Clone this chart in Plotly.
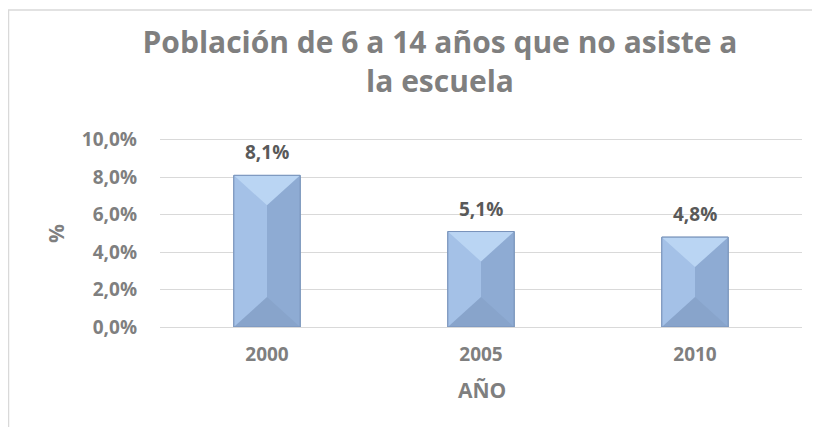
import plotly.graph_objects as go

# data
years = ["2000", "2005", "2010"]
pct_not_attending = [8.1, 5.1, 4.8]
y_ticks = [0, 2, 4, 6, 8, 10]
y_tick_labels = ["0,0%", "2,0%", "4,0%", "6,0%", "8,0%", "10,0%"]

chart_title = "Población de 6 a 14 años que no asiste a<br>la escuela"

# the page adds an 8px body margin, so the figure is shifted by that much;
# geometry below is written in screenshot pixels and converted
OFF = 8
W, H = 820 - OFF, 427 - OFF
L, R, T, B = 160, 802, 137, 327
Y_MAX = 10.15
GRAY = "#7f7f7f"
FONT = "Open Sans"


def px_x(x):
    return (x - L) / (R - L)


def px_y(y):
    return (B - y) / (B - T)


positions = list(range(len(years)))

fig = go.Figure()

fig.add_trace(go.Bar(
    x=positions,
    y=pct_not_attending,
    width=0.31,
    marker=dict(color="#9bb8de", line=dict(color="#7593bb", width=1)),
    hoverinfo="skip",
))

# bevel look of the Excel bars, built from the same values
bar_w = 0.31
depth = 1.6
shapes = []
for i, v in zip(positions, pct_not_attending):
    x0, x1, xm = i - bar_w / 2, i + bar_w / 2, i
    d = min(depth, v / 2)
    # left and right halves
    shapes.append(dict(type="rect", xref="x", yref="y", x0=x0, x1=xm, y0=0, y1=v,
                       fillcolor="#a4c1e7", line=dict(width=0), layer="above"))
    shapes.append(dict(type="rect", xref="x", yref="y", x0=xm, x1=x1, y0=0, y1=v,
                       fillcolor="#8eabd3", line=dict(width=0), layer="above"))
    # top bevel
    shapes.append(dict(type="path", xref="x", yref="y",
                       path=f"M {x0},{v} L {x1},{v} L {xm},{v - d} Z",
                       fillcolor="#bad5f3", line=dict(width=0), layer="above"))
    # bottom bevel
    shapes.append(dict(type="path", xref="x", yref="y",
                       path=f"M {x0},0 L {x1},0 L {xm},{d} Z",
                       fillcolor="#88a4cb", line=dict(width=0), layer="above"))
    # outline
    shapes.append(dict(type="rect", xref="x", yref="y", x0=x0, x1=x1, y0=0, y1=v,
                       fillcolor="rgba(0,0,0,0)", line=dict(color="#7893ba", width=1),
                       layer="above"))

# chart frame (cropped on the right and bottom in the reference)
shapes.append(dict(type="rect", xref="paper", yref="paper",
                   x0=px_x(OFF + 0.5), x1=px_x(W + 60), y0=px_y(H + 60), y1=px_y(10),
                   fillcolor="rgba(0,0,0,0)", line=dict(color="#d9d9d9", width=1.5),
                   layer="below"))

annotations = [
    dict(text="%", xref="paper", yref="paper", x=px_x(56), y=px_y(234),
         showarrow=False, textangle=-90, xanchor="center", yanchor="middle",
         font=dict(family=FONT, size=21, color=GRAY, weight="bold")),
    dict(text="AÑO", xref="paper", yref="paper", x=px_x(482), y=px_y(390),
         showarrow=False, xanchor="center", yanchor="middle",
         font=dict(family=FONT, size=21, color=GRAY, weight="bold")),
]
for i, v in zip(positions, pct_not_attending):
    annotations.append(dict(
        text=f"{v:.1f}".replace(".", ",") + "%", x=i, y=v, xref="x", yref="y",
        showarrow=False, yanchor="bottom", yshift=8,
        font=dict(family=FONT, size=19, color="#595959", weight="bold")))

fig.update_layout(
    width=W, height=H,
    margin=dict(l=L - OFF, r=W - (R - OFF), t=T - OFF, b=H - (B - OFF), autoexpand=False),
    paper_bgcolor="white", plot_bgcolor="white",
    showlegend=False,
    title=dict(
        text=chart_title, xref="paper", x=px_x(440), xanchor="center",
        yref="container", y=1 - (53 - OFF) / H, yanchor="middle",
        font=dict(family=FONT, size=30, color=GRAY, weight="bold"),
    ),
    shapes=shapes,
    annotations=annotations,
    xaxis=dict(
        range=[-0.5, len(years) - 0.5], tickvals=positions, ticktext=years,
        showgrid=False, showline=False, zeroline=False, ticks="",
        ticklabelstandoff=14,
        tickfont=dict(family=FONT, size=19, color=GRAY, weight="bold"),
    ),
    yaxis=dict(
        range=[0, Y_MAX], tickvals=y_ticks, ticktext=y_tick_labels,
        showgrid=True, gridcolor="#d9d9d9", gridwidth=1,
        zeroline=True, zerolinecolor="#d9d9d9", zerolinewidth=1,
        showline=False, ticks="",
        ticklabelstandoff=22,
        tickfont=dict(family=FONT, size=19, color=GRAY, weight="bold"),
    ),
)

fig.write_html("out.html")
